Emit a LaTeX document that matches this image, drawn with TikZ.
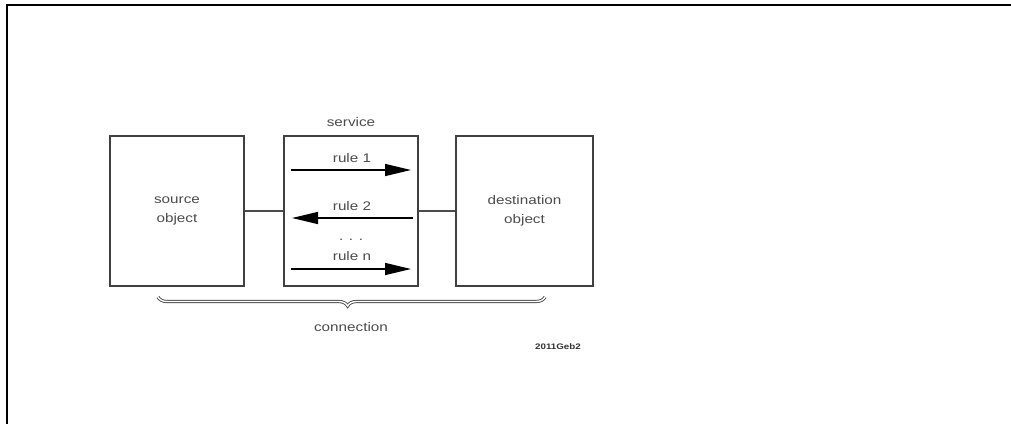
\documentclass[tikz,border=0pt]{standalone}
\usepackage{fontspec}
\setmainfont{Liberation Sans}[FakeStretch=1.22]
\usetikzlibrary{arrows.meta,decorations.pathreplacing}
\begin{document}
\begin{tikzpicture}[x=1pt,y=-1pt,
  box/.style={draw=black!75,line width=1.6pt,rectangle,inner sep=0pt,
    minimum height=150pt,align=center,text=black!70,
    font=\fontsize{12.5}{19}\selectfont},
  lbl/.style={text=black!70,inner sep=0pt,font=\fontsize{12.5}{15}\selectfont},
  link/.style={draw=black!70,line width=1.4pt},
  rulearrow/.style={draw=black,line width=1.5pt,-{Triangle[length=26pt,width=12pt]}},
  frame/.style={draw=black,line width=2pt}]
\useasboundingbox (0,0) rectangle (1011,423);
\fill[white] (0,0) rectangle (1011,423);
% frame (top and left edges)
\coordinate (ftl) at (7,5);
\coordinate (ftr) at (1012,5);
\coordinate (fbl) at (7,424);
\draw[frame] (ftr) -- (ftl) -- (fbl);
% boxes
\node[box,minimum width=134pt] (src) at (177,211) {source\\object};
\node[box,minimum width=134pt] (svc) at (351,211) {};
\node[box,minimum width=137pt] (dst) at (524.5,211) {destination\\object};
\draw[link] (src.east) -- (svc.west);
\draw[link] (svc.east) -- (dst.west);
% service label
\node[lbl] (svclbl) at (351,122) {service};
% rules
\coordinate (r1a) at (291,170);
\coordinate (r1b) at (411,170);
\coordinate (r2a) at (413,218);
\coordinate (r2b) at (292,218);
\coordinate (rna) at (291,269);
\coordinate (rnb) at (411,269);
\draw[rulearrow] (r1a) -- (r1b);
\draw[rulearrow] (r2a) -- (r2b);
\draw[rulearrow] (rna) -- (rnb);
\node[lbl] (rule1) at (352,158) {rule 1};
\node[lbl] (rule2) at (352,206) {rule 2};
\node[lbl] (dots) at (351,240) {. . .};
\node[lbl] (rulen) at (352,256) {rule n};
% brace
\coordinate (bl) at (158,297);
\coordinate (br) at (545,297);
\draw[decorate,decoration={brace,mirror,amplitude=9pt,aspect=0.49},
  draw=black!70,double=white,double distance=1.4pt,line width=0.9pt] (bl) -- (br);
\node[lbl] (conn) at (351,327) {connection};
\node[inner sep=0pt,text=black!80,font=\fontsize{8}{9}\selectfont\bfseries] (code) at (558,347) {2011Geb2};
\end{tikzpicture}
\end{document}
